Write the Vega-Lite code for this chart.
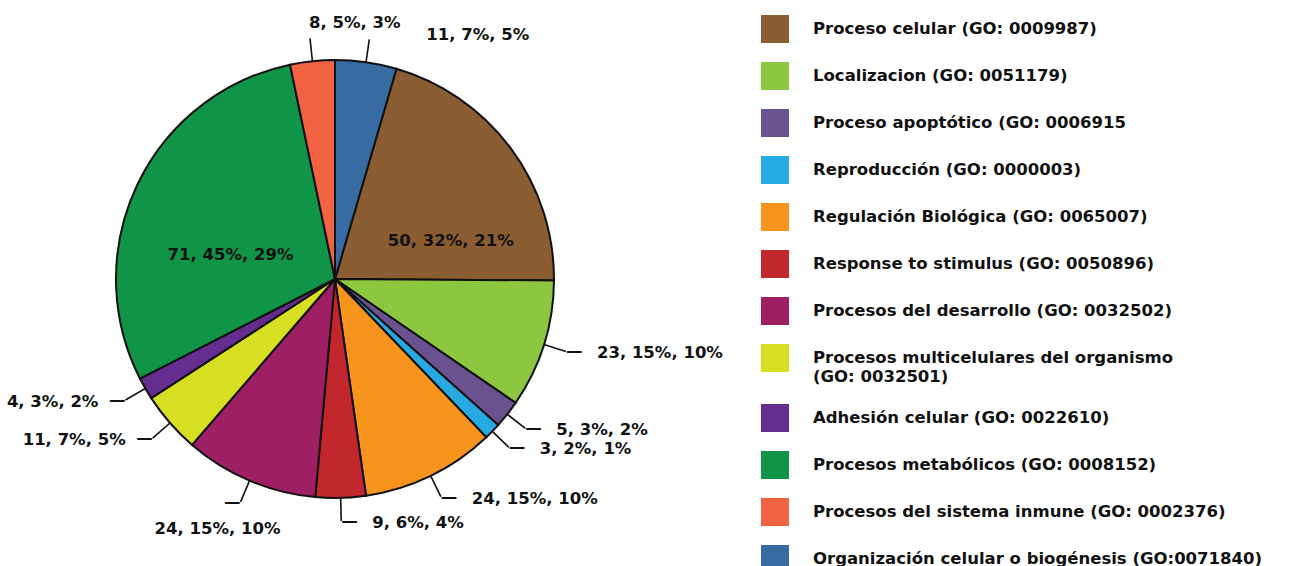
{
  "$schema": "https://vega.github.io/schema/vega-lite/v6.json",
  "width": 670,
  "height": 558,
  "padding": 0,
  "background": "white",
  "config": {"view": {"stroke": null}},
  "data": {
    "values": [
      {"id": 1, "cat": "Proceso celular  (GO: 0009987)", "n": 50, "label": "50, 32%, 21%"},
      {"id": 2, "cat": "Localizacion (GO: 0051179)", "n": 23, "label": "23, 15%, 10%"},
      {"id": 3, "cat": "Proceso apoptótico (GO: 0006915", "n": 5, "label": "5, 3%, 2%"},
      {"id": 4, "cat": "Reproducción (GO: 0000003)", "n": 3, "label": "3, 2%, 1%"},
      {"id": 5, "cat": "Regulación Biológica (GO: 0065007)", "n": 24, "label": "24,  15%, 10%"},
      {"id": 6, "cat": "Response to stimulus (GO: 0050896)", "n": 9, "label": "9, 6%, 4%"},
      {"id": 7, "cat": "Procesos del desarrollo (GO: 0032502)", "n": 24, "label": "24, 15%, 10%"},
      {"id": 8, "cat": "Procesos multicelulares del organismo (GO: 0032501)", "n": 11, "label": "11, 7%, 5%"},
      {"id": 9, "cat": "Adhesión celular (GO: 0022610)", "n": 4, "label": "4, 3%, 2%"},
      {"id": 10, "cat": "Procesos metabólicos (GO: 0008152)", "n": 71, "label": "71, 45%, 29%"},
      {"id": 11, "cat": "Procesos del sistema inmune (GO: 0002376)", "n": 8, "label": "8, 5%, 3%"},
      {"id": 12, "cat": "Organización celular o biogénesis (GO:0071840)", "n": 11, "label": "11, 7%, 5%"}
    ]
  },
  "encoding": {
    "theta": {"field": "n", "type": "quantitative", "stack": true, "scale": {"range": [0.28442, 6.56761]}},
    "order": {"field": "id", "type": "quantitative"}
  },
  "layer": [
    {
      "mark": {"type": "arc", "radius": 219, "stroke": "#111111", "strokeWidth": 2},
      "encoding": {
        "color": {
          "field": "cat", "type": "nominal",
          "scale": {
            "domain": ["Proceso celular  (GO: 0009987)", "Localizacion (GO: 0051179)", "Proceso apoptótico (GO: 0006915", "Reproducción (GO: 0000003)", "Regulación Biológica (GO: 0065007)", "Response to stimulus (GO: 0050896)", "Procesos del desarrollo (GO: 0032502)", "Procesos multicelulares del organismo (GO: 0032501)", "Adhesión celular (GO: 0022610)", "Procesos metabólicos (GO: 0008152)", "Procesos del sistema inmune (GO: 0002376)", "Organización celular o biogénesis (GO:0071840)"],
            "range": ["#8a5d33", "#8dc63f", "#6a5290", "#27aae1", "#f7941d", "#c1272d", "#9e1f63", "#d7df23", "#662d91", "#109447", "#f26344", "#386ba2"]
          },
          "legend": {
            "title": null,
            "orient": "none",
            "legendX": 761,
            "legendY": 15,
            "padding": 0,
            "symbolType": "square",
            "symbolSize": 784,
            "symbolStrokeWidth": 0,
            "symbolOpacity": 1,
            "rowPadding": 19,
            "labelOffset": 24,
            "labelLimit": 700,
            "labelFont": "DejaVu Sans",
            "labelFontWeight": "bold",
            "labelFontSize": 16.5,
            "labelColor": "#111111",
            "labelExpr": "datum.label == 'Procesos multicelulares del organismo (GO: 0032501)' ? ['Procesos multicelulares del organismo', '(GO: 0032501)'] : datum.label"
          }
        }
      }
    },
    {
      "mark": {"type": "arc", "radius": 242, "radius2": 219, "padAngle": 3, "filled": false, "fill": null, "stroke": "#111111", "strokeWidth": 1.6},
      "encoding": {
        "strokeOpacity": {"condition": {"test": "datum.id == 1 || datum.id == 10", "value": 0}, "value": 1}
      }
    },
    {
      "mark": {"type": "text", "radius": 242, "align": "left", "baseline": "alphabetic", "dy": 5, "font": "DejaVu Sans", "fontWeight": "bold", "fontSize": 16.5, "fill": "#111111"},
      "encoding": {"text": {"condition": {"test": "datum.id >= 2 && datum.id <= 6", "value": "—"}, "value": ""}}
    },
    {
      "mark": {"type": "text", "radius": 242, "align": "right", "baseline": "alphabetic", "dy": 5, "font": "DejaVu Sans", "fontWeight": "bold", "fontSize": 16.5, "fill": "#111111"},
      "encoding": {"text": {"condition": {"test": "datum.id >= 7 && datum.id <= 9", "value": "—"}, "value": ""}}
    },
    {
      "mark": {"type": "text", "radius": 242, "align": "left", "baseline": "middle", "dx": 31, "dy": 2, "font": "DejaVu Sans", "fontWeight": "bold", "fontSize": 16.5, "fill": "#111111"},
      "encoding": {"text": {"condition": {"test": "datum.id >= 2 && datum.id <= 6", "field": "label", "type": "nominal"}, "value": ""}}
    },
    {
      "mark": {"type": "text", "radius": 242, "align": "right", "baseline": "middle", "dx": -27, "dy": 2, "font": "DejaVu Sans", "fontWeight": "bold", "fontSize": 16.5, "fill": "#111111"},
      "encoding": {"text": {"condition": {"test": "datum.id == 8 || datum.id == 9", "field": "label", "type": "nominal"}, "value": ""}}
    },
    {
      "mark": {"type": "text", "radius": 242, "align": "center", "baseline": "middle", "dx": -23, "dy": 27, "font": "DejaVu Sans", "fontWeight": "bold", "fontSize": 16.5, "fill": "#111111"},
      "encoding": {"text": {"condition": {"test": "datum.id == 7", "field": "label", "type": "nominal"}, "value": ""}}
    },
    {
      "mark": {"type": "text", "radius": 242, "align": "left", "baseline": "middle", "dx": -1, "dy": -15, "font": "DejaVu Sans", "fontWeight": "bold", "fontSize": 16.5, "fill": "#111111"},
      "encoding": {"text": {"condition": {"test": "datum.id == 11", "field": "label", "type": "nominal"}, "value": ""}}
    },
    {
      "mark": {"type": "text", "radius": 242, "align": "left", "baseline": "middle", "dx": 57, "dy": -4, "font": "DejaVu Sans", "fontWeight": "bold", "fontSize": 16.5, "fill": "#111111"},
      "encoding": {"text": {"condition": {"test": "datum.id == 12", "field": "label", "type": "nominal"}, "value": ""}}
    },
    {
      "mark": {"type": "text", "radius": 122, "align": "center", "baseline": "middle", "dx": 18, "dy": 35, "font": "DejaVu Sans", "fontWeight": "bold", "fontSize": 16.5, "fill": "#111111"},
      "encoding": {"text": {"condition": {"test": "datum.id == 1", "field": "label", "type": "nominal"}, "value": ""}}
    },
    {
      "mark": {"type": "text", "radius": 108, "align": "center", "baseline": "middle", "dx": -7, "dy": 23, "font": "DejaVu Sans", "fontWeight": "bold", "fontSize": 16.5, "fill": "#111111"},
      "encoding": {"text": {"condition": {"test": "datum.id == 10", "field": "label", "type": "nominal"}, "value": ""}}
    }
  ]
}
